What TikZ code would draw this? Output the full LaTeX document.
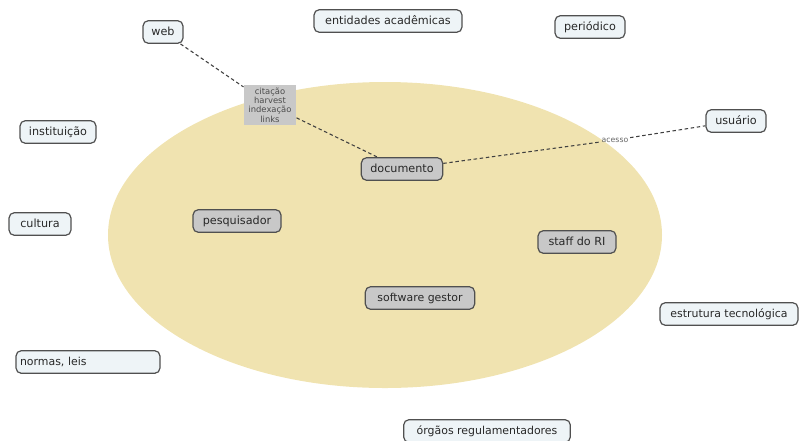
\documentclass[tikz,border=0pt]{standalone}
\usepackage{fontspec}
\setmainfont{DejaVu Sans}
\usetikzlibrary{positioning}

\definecolor{areafill}{RGB}{240,227,176}
\definecolor{boxfill}{RGB}{238,244,247}
\definecolor{graybox}{RGB}{200,200,200}
\definecolor{boxline}{RGB}{80,80,80}
\definecolor{textcol}{RGB}{40,40,40}

\tikzset{every picture/.style={line width=0.75pt}}
\tikzset{
  concept/.style={draw=boxline, fill=boxfill, rounded corners=4pt, line width=0.9pt,
    font=\fontsize{8.4}{9.8}\selectfont, text=textcol, inner sep=0pt,
    minimum height=17pt, text height=6.6pt, text depth=1.8pt},
  core/.style={concept, fill=graybox},
  narrowtext/.style={font=\fontsize{8.2}{9.6}\selectfont},
  linktag/.style={fill=graybox, font=\fontsize{6.3}{6.9}\selectfont, text=black!70,
    align=center, inner sep=1pt},
  linkline/.style={dash pattern={on 2.6pt off 2pt}, line width=0.8pt, draw=black!75}
}

\begin{document}
\begin{tikzpicture}[x=0.75pt,y=0.75pt,yscale=-1,xscale=1]
  \useasboundingbox (0,0) rectangle (799,440);

  %Ellipse
  \fill [areafill] (385,235) ellipse (277 and 153);

  % Text Node
  \node [concept, minimum width=30pt] (web) at (163,32) {web};
  % Text Node
  \node [concept, minimum width=111pt] (entidades) at (388,21) {entidades acadêmicas};
  % Text Node
  \node [concept, minimum width=52.5pt] (periodico) at (590,27) {periódico};
  % Text Node
  \node [concept, minimum width=57pt] (instituicao) at (58,132) {instituição};
  % Text Node
  \node [concept, minimum width=45pt] (usuario) at (736,121) {usuário};
  % Text Node
  \node [concept, minimum width=46.5pt] (cultura) at (40,224) {cultura};
  % Text Node
  \node [core, minimum width=61pt] (documento) at (402,169) {documento};
  % Text Node
  \node [core, minimum width=66pt] (pesquisador) at (237,221) {pesquisador};
  % Text Node
  \node [core, minimum width=58.5pt] (staff) at (577,242) {staff do RI};
  % Text Node
  \node [core, narrowtext, minimum width=82pt] (software) at (420,298) {software gestor};
  % Text Node
  \node [concept, narrowtext, minimum width=103.5pt] (estrutura) at (729,314) {estrutura tecnológica};
  % Text Node
  \node [concept, narrowtext, minimum width=108pt, text width=102pt] (normas) at (88,362) {normas, leis};
  % Text Node
  \node [concept, narrowtext, minimum width=125pt] (orgaos) at (487,431) {órgãos regulamentadores};

  % Link label
  \node [linktag, minimum width=39pt, minimum height=30pt] (tags) at (270,105) {citação\\harvest\\indexação\\links};
  % Link label
  \node [font=\fontsize{5.8}{6}\selectfont, text=black!60, inner sep=1pt] (acesso) at (615,140) {acesso};

  %Straight Lines
  \draw [linkline] (web) -- (tags);
  \draw [linkline] (tags) -- (documento);
  \draw [linkline] (documento) -- (acesso);
  \draw [linkline] (acesso) -- (usuario);
\end{tikzpicture}
\end{document}
